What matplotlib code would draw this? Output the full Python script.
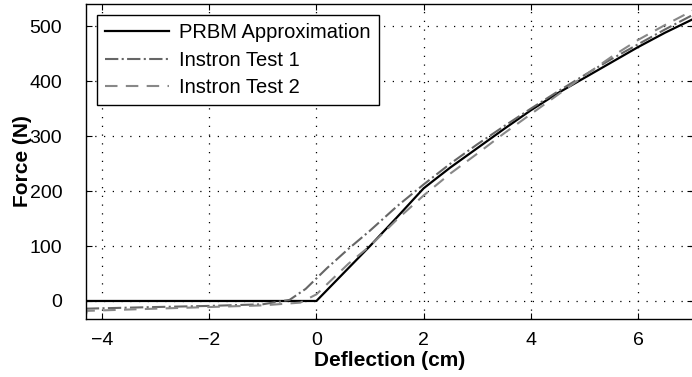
import numpy as np
import matplotlib
matplotlib.use('Agg')
import matplotlib.pyplot as plt

plt.rcParams['font.family'] = ['Liberation Sans', 'DejaVu Sans']

# PRBM model
x_prbm = [-4.3, 0.0, 0.5, 1.0, 1.5, 2.0, 2.5, 3.0, 3.5, 4.0, 4.5, 5.0, 5.5, 6.0, 6.5, 7.05]
f_prbm = [0, 0, 50, 100, 152, 205, 243, 278, 313, 347, 378, 406, 434, 462, 488, 514]

# Instron test 1 (dash-dot)
x_t1 = [-4.3, -3.0, -2.0, -1.0, -0.5, -0.2, 0.2, 0.6, 1.0, 1.5, 2.0, 2.5, 3.0, 3.5, 4.0,
        4.5, 5.0, 5.5, 6.0, 6.5, 7.05]
f_t1 = [-14, -11, -9, -6, 2, 22, 60, 95, 128, 172, 212, 250, 285, 318, 350,
        381, 411, 440, 467, 494, 522]

# Instron test 2 (dashed)
x_t2 = [-4.3, -4.28, -3.0, -2.0, -1.0, -0.3, 0.0, 0.3, 0.6, 1.0, 1.5, 2.0, 2.5, 3.0, 3.5,
        4.0, 4.5, 5.0, 5.5, 6.0, 6.5, 7.05]
f_t2 = [-26, -18, -14, -11, -8, -3, 12, 40, 68, 100, 148, 192, 232, 268, 305,
        340, 375, 410, 444, 475, 502, 530]

fig = plt.figure(figsize=(6.92, 3.77), dpi=100)
ax = fig.add_axes([0.124, 0.155, 0.878, 0.834])

ax.plot(x_prbm, f_prbm, color='black', lw=1.6, label='PRBM Approximation')
ax.plot(x_t1, f_t1, color='#666666', lw=1.5, ls='-.', label='Instron Test 1')
ax.plot(x_t2, f_t2, color='#888888', lw=1.5, ls=(0, (6, 4)), label='Instron Test 2')

ax.set_xlim(-4.3, 7.03)
ax.set_ylim(-32, 540)
ax.set_xticks([-4, -2, 0, 2, 4, 6])
ax.set_yticks([0, 100, 200, 300, 400, 500])
ax.set_xticklabels(['\u22124', '\u22122', '0', '2', '4', '6'])
ax.tick_params(direction='in', top=True, right=True, labelsize=14, length=4)
ax.tick_params(axis='x', pad=10)
ax.tick_params(axis='y', pad=17)
ax.grid(True, ls=(0, (1, 6)), color='black', lw=0.9)

ax.set_xlabel('Deflection (cm)', fontsize=15, fontweight='bold', labelpad=1)
ax.set_ylabel('Force (N)', fontsize=15, fontweight='bold', labelpad=-2)

for s in ax.spines.values():
    s.set_linewidth(1.0)

leg = ax.legend(loc='upper left', fontsize=14.5, handlelength=3.2, fancybox=False,
                framealpha=1, edgecolor='black', borderaxespad=0.55,
                labelspacing=0.42, borderpad=0.4, handletextpad=0.5)
leg.get_frame().set_linewidth(1.0)

fig.savefig('out.png', dpi=100)
